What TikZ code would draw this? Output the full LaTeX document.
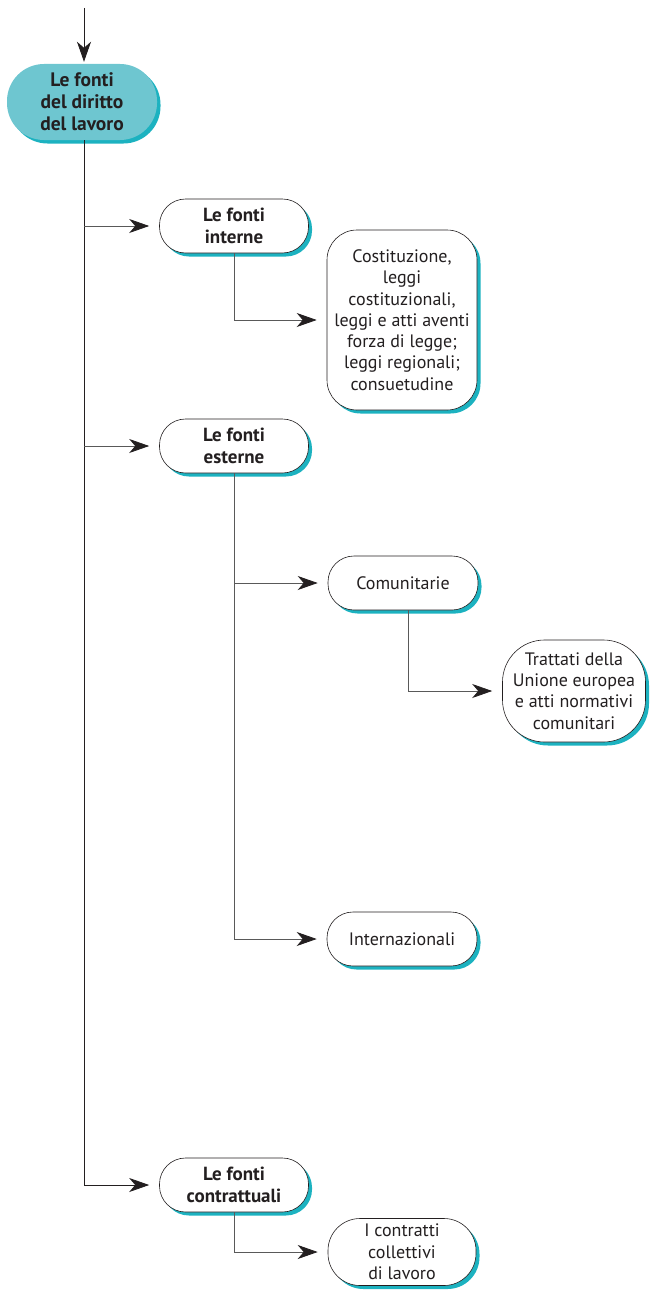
\documentclass[tikz,border=0pt]{standalone}
\usepackage{fontspec}
\setmainfont{PT Sans}
\usetikzlibrary{arrows.meta,shadows}
\definecolor{fontifill}{RGB}{110,198,208}
\definecolor{fontishade}{RGB}{28,178,192}
\definecolor{fontitext}{RGB}{35,31,32}
\begin{document}
\begin{tikzpicture}[x=1pt,y=-1pt,
    box/.style={align=center, inner sep=0pt, text=fontitext,
        drop shadow={shadow xshift=3.5pt, shadow yshift=-3.5pt, fill=fontishade, opacity=1}},
    mainbox/.style={box, fill=fontifill, font=\fontsize{19.5}{22}\selectfont\bfseries,
        minimum width=150pt, minimum height=76pt, rounded corners=37pt},
    head/.style={box, draw=fontitext, line width=0.6pt, fill=white,
        font=\fontsize{19}{22}\selectfont\bfseries,
        minimum width=149pt, minimum height=54pt, rounded corners=26pt},
    leaf/.style={box, draw=fontitext, line width=0.6pt, fill=white,
        font=\fontsize{18}{21.3}\selectfont},
    conn/.style={draw=black!65, line width=0.8pt, shorten >=10pt,
        -{Stealth[length=20pt,width=14pt,inset=6pt,color=fontitext]}}
]
    \useasboundingbox (0,0) rectangle (649,1290);

    % nodes
    \node[mainbox] (diritto) at (82,102) {Le fonti\\del diritto\\del lavoro};
    \node[head] (interne) at (234,226) {Le fonti\\interne};
    \node[leaf, minimum width=150pt, minimum height=180pt, rounded corners=30pt] (costituzione) at (402,320)
        {Costituzione,\\leggi\\costituzionali,\\leggi e atti aventi\\forza di legge;\\leggi regionali;\\consuetudine};
    \node[head] (esterne) at (234,446) {Le fonti\\esterne};
    \node[leaf, minimum width=150pt, minimum height=54pt, rounded corners=26pt] (comunitarie) at (403,583) {Comunitarie};
    \node[leaf, minimum width=143pt, minimum height=102pt, rounded corners=42pt] (trattati) at (574,691)
        {Trattati della\\Unione europea\\e atti normativi\\comunitari};
    \node[leaf, minimum width=150pt, minimum height=54pt, rounded corners=26pt] (internazionali) at (402,939) {Internazionali};
    \node[head] (contrattuali) at (234,1185) {Le fonti\\contrattuali};
    \node[leaf, minimum width=148pt, minimum height=67pt, rounded corners=32pt] (collettivi) at (402,1252)
        {I contratti\\collettivi\\di lavoro};

    % connectors
    \coordinate (top) at (84,8);
    \draw[conn, shorten >=2pt, draw=fontitext] (top) -- (top |- diritto.north);
    \draw[conn, draw=fontitext] (top |- diritto.south) |- (contrattuali.west);
    \draw[conn] (top |- interne.west) -- (interne.west);
    \draw[conn] (top |- esterne.west) -- (esterne.west);
    \draw[conn] (interne.south) |- (costituzione.west);
    \draw[conn] (esterne.south) |- (internazionali.west);
    \draw[conn] (esterne.south |- comunitarie.west) -- (comunitarie.west);
    \draw[conn] ([xshift=5pt]comunitarie.south) |- (trattati.west);
    \draw[conn] (contrattuali.south) |- (collettivi.west);
\end{tikzpicture}
\end{document}
